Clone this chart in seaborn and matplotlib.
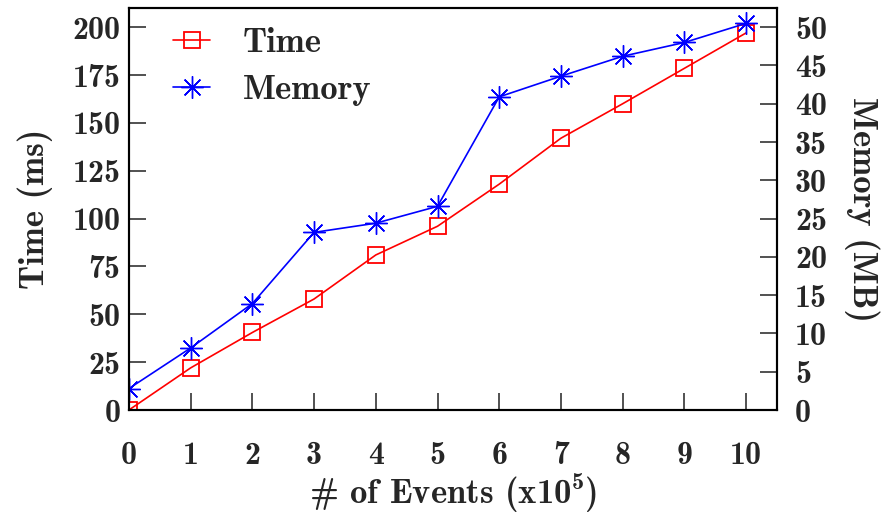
import matplotlib
matplotlib.use("Agg")
import matplotlib.pyplot as plt
import seaborn as sns
import pandas as pd

# Benchmark results: processing time and memory use per number of events
events = [0, 1, 2, 3, 4, 5, 6, 7, 8, 9, 10]
time_ms = [0, 22, 40.5, 58, 81, 96, 118, 142, 160, 178.5, 197]
memory_mb = [2.8, 8.1, 13.9, 23.2, 24.4, 26.6, 40.9, 43.6, 46.2, 48.0, 50.5]

sns.set_theme(style="white")
plt.rcParams["font.family"] = ["cmb10", "DejaVu Serif"]
plt.rcParams["mathtext.fontset"] = "custom"
plt.rcParams["mathtext.rm"] = "cmb10"
plt.rcParams["mathtext.bf"] = "cmb10"
plt.rcParams["axes.unicode_minus"] = False

df = pd.DataFrame({"events": events, "time": time_ms, "memory": memory_mb})

fig = plt.figure(figsize=(8.89, 5.14), dpi=100)
ax = fig.add_axes([0.145, 0.2023, 0.729, 0.7821])
ax2 = ax.twinx()

star = (8, 2, 0)
sns.lineplot(data=df, x="events", y="time", ax=ax, color="#ff0000", lw=1.2,
             marker="s", markersize=11.5, markerfacecolor="none",
             markeredgecolor="#ff0000", markeredgewidth=1.3, label="Time",
             legend=False)
sns.lineplot(data=df, x="events", y="memory", ax=ax2, color="#0000ff", lw=1.2,
             marker=star, markersize=16, markeredgecolor="#0000ff",
             markeredgewidth=1.0, label="Memory", legend=False)

ax.set_xlim(0, 10.5)
ax.set_ylim(0, 210)
ax2.set_ylim(0, 52.5)
ax.set_xticks(events)
ax.set_yticks(range(0, 201, 25))
ax2.set_yticks(range(0, 51, 5))

tfs = 23
lfs = 25
ax.tick_params(axis="x", direction="in", length=12, width=1.2, pad=22,
               labelsize=tfs, bottom=True, top=False, color="#333333")
ax.tick_params(axis="y", direction="in", length=12, width=1.2, pad=6,
               labelsize=tfs, left=True, right=False, color="#333333")
ax2.tick_params(axis="y", direction="in", length=12, width=1.2, pad=13,
                labelsize=tfs, right=True, left=False, color="#333333")

for a in (ax, ax2):
    for s in a.spines.values():
        s.set_color("black")
        s.set_linewidth(1.5)

ax.set_xlabel(r"# of Events (x10$^{5}$)", fontsize=lfs, labelpad=1)
ax.set_ylabel("Time (ms)", fontsize=lfs, labelpad=14)
ax2.set_ylabel("Memory (MB)", fontsize=lfs, rotation=270, labelpad=38)

h1, l1 = ax.get_legend_handles_labels()
h2, l2 = ax2.get_legend_handles_labels()
ax.legend(h1 + h2, l1 + l2, loc="upper left", frameon=False, fontsize=lfs,
          handlelength=1.07, borderaxespad=0, borderpad=0, handletextpad=0.95,
          labelspacing=0.45, bbox_to_anchor=(0.068, 0.95))

fig.savefig("out.png", dpi=100)
